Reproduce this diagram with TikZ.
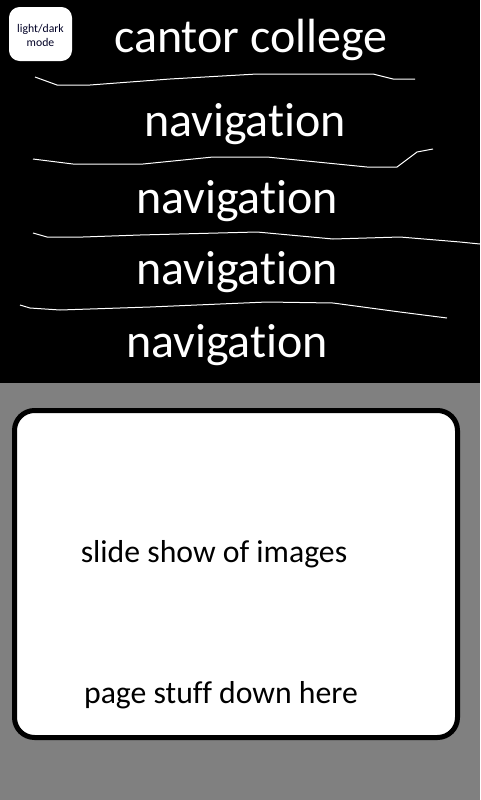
\documentclass[tikz,border=0pt]{standalone}
\usepackage{fontspec}
\setmainfont[Ligatures=NoCommon]{Carlito}
\usepackage{xcolor}
\definecolor{pagegray}{HTML}{808080}
\definecolor{navblack}{HTML}{000000}
\usetikzlibrary{positioning}

\begin{document}
\begin{tikzpicture}[
  x=0.75pt, y=-0.75pt,
  every node/.style={inner sep=0pt},
  title/.style={anchor=base, text=white, font=\fontsize{36}{42}\selectfont},
  navtext/.style={anchor=base, text=white, font=\fontsize{36}{42}\selectfont},
  bodytext/.style={anchor=base, text=black, font=\fontsize{23.8}{28}\selectfont},
  scribble/.style={draw=white, line width=0.75pt}
]
  % Page size in pixels
  \def\pw{480}\def\ph{800}\def\navh{383}
  \useasboundingbox (0,0) rectangle (\pw,\ph);
  \fill[navblack] (0,0) rectangle (\pw,\navh);
  \fill[pagegray] (0,\navh) rectangle (\pw,\ph);

  % Toggle button
  \fill[white, rounded corners=8] (9,7) rectangle (72,61);
  \node[anchor=base, align=center, font=\fontsize{8.8}{10.5}\selectfont, text=black!85!blue]
    (toggle) at (40.5,46) {light/dark\\mode};

  % Header and menu
  \node[title]  (college) at (251,52)  {cantor college};
  \node[navtext] (nav1)   at (245,136) {navigation};
  \node[navtext] (nav2)   at (237,213) {navigation};
  \node[navtext] (nav3)   at (237,284) {navigation};
  \node[navtext] (nav4)   at (227,357) {navigation};

  % Hand drawn dividers
  \draw[scribble] (35,77) -- (57,85) -- (90,85) -- (170,79) -- (257,74) -- (373,74) -- (393,79) -- (415,79);
  \draw[scribble] (33,159) -- (73,164) -- (143,164) -- (213,157) -- (267,157) -- (367,167) -- (397,167) -- (417,152) -- (433,149);
  \draw[scribble] (33,233) -- (47,237) -- (83,237) -- (140,235) -- (257,232) -- (333,239) -- (400,237) -- (460,242) -- (480,244);
  \draw[scribble] (20,305) -- (30,308) -- (60,310) -- (150,307) -- (267,302) -- (333,303) -- (400,312) -- (447,318);

  % Content card
  \draw[black, fill=white, line width=3.75pt, rounded corners=15] (14.5,410.5) rectangle (457.5,737.5);
  \node[bodytext] (slides) at (214,562) {slide show of images};
  \node[bodytext] (stuff)  at (221,703) {page stuff down here};
\end{tikzpicture}
\end{document}
